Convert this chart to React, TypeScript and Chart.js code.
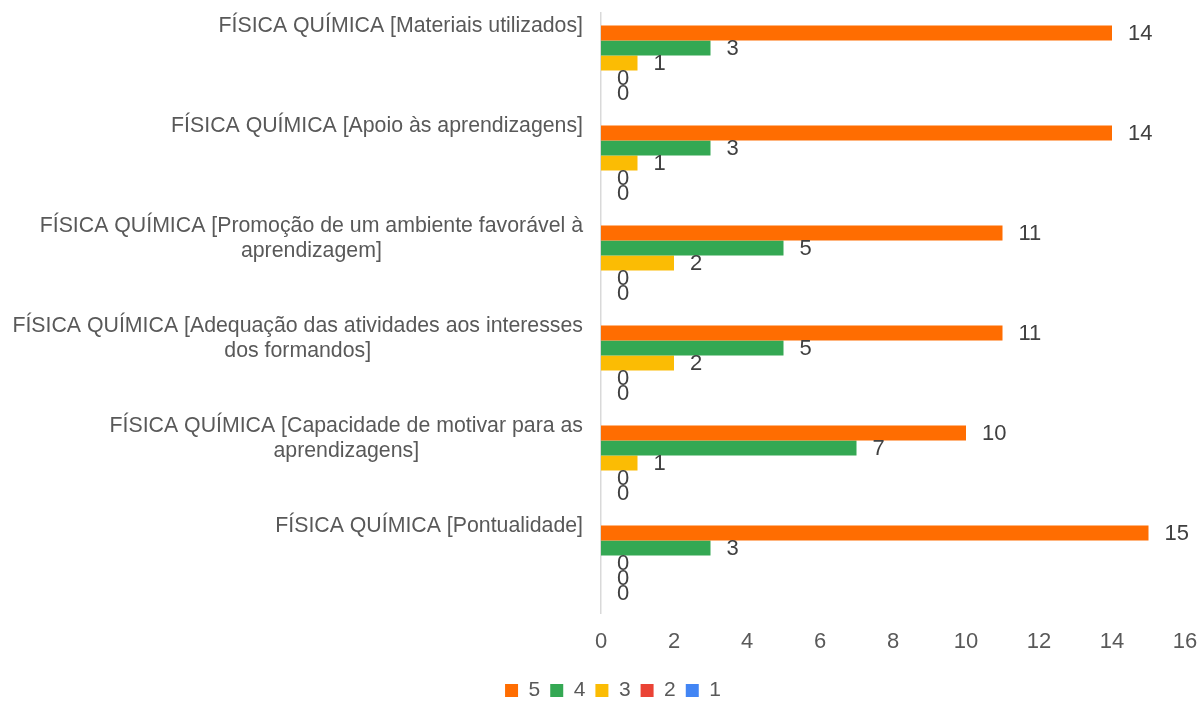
import React, { useEffect, useRef } from "react";
import { Chart, registerables } from "chart.js";

Chart.register(...registerables);

const categories: string[][] = [
  ["FÍSICA QUÍMICA [Materiais utilizados]"],
  ["FÍSICA QUÍMICA [Apoio às aprendizagens]"],
  ["FÍSICA QUÍMICA [Promoção de um ambiente favorável à", "aprendizagem]"],
  ["FÍSICA QUÍMICA [Adequação das atividades aos interesses", "dos formandos]"],
  ["FÍSICA QUÍMICA [Capacidade de motivar para as", "aprendizagens]"],
  ["FÍSICA QUÍMICA [Pontualidade]"],
];

const seriesNames = ["5", "4", "3", "2", "1"];
const values5 = [14, 14, 11, 11, 10, 15];
const values4 = [3, 3, 5, 5, 7, 3];
const values3 = [1, 1, 2, 2, 1, 0];
const values2 = [0, 0, 0, 0, 0, 0];
const values1 = [0, 0, 0, 0, 0, 0];
const seriesColors = ["#FF6D01", "#34A853", "#FBBC04", "#EA4335", "#4285F4"];
const xTicks = [0, 2, 4, 6, 8, 10, 12, 14, 16];

const FONT = "'Liberation Sans', Arial, sans-serif";

const labelPlugin = {
  id: "customLabels",
  afterDraw(chart: any) {
    const ctx = chart.ctx;
    const yScale = chart.scales.y;
    ctx.save();
    ctx.font = `21.3px ${FONT}`;
    ctx.fillStyle = "#595959";
    ctx.textBaseline = "middle";
    ctx.textAlign = "center";
    const right = chart.chartArea.left - 18;
    categories.forEach((lines, i) => {
      const cy = yScale.getPixelForValue(i);
      const maxW = Math.max(...lines.map((l) => ctx.measureText(l).width));
      const cx = right - maxW / 2;
      lines.forEach((l, j) => {
        ctx.fillText(l, cx, cy - 37 + j * 25);
      });
    });
    ctx.font = `22px ${FONT}`;
    ctx.fillStyle = "#404040";
    ctx.textAlign = "left";
    chart.data.datasets.forEach((ds: any, di: number) => {
      const meta = chart.getDatasetMeta(di);
      meta.data.forEach((bar: any, i: number) => {
        ctx.fillText(String(ds.data[i]), bar.x + 16, bar.y + 1);
      });
    });
    ctx.restore();
  },
};

export default function App() {
  const ref = useRef<HTMLCanvasElement>(null);
  useEffect(() => {
    document.body.style.margin = "0";
    const allSeries = [values5, values4, values3, values2, values1];
    const chart = new Chart(ref.current!, {
      type: "bar",
      data: {
        labels: categories.map((c) => c.join(" ")),
        datasets: allSeries.map((d, i) => ({
          label: seriesNames[i],
          data: d,
          backgroundColor: seriesColors[i],
          borderWidth: 0,
          categoryPercentage: 0.75,
          barPercentage: 1,
        })),
      },
      options: {
        indexAxis: "y",
        animation: false,
        responsive: false,
        maintainAspectRatio: false,
        layout: { padding: { top: 13, right: 16, bottom: 0, left: 41 } },
        plugins: {
          legend: {
            position: "bottom",
            maxHeight: 31,
            labels: {
              boxWidth: 13,
              boxHeight: 13,
              padding: 10,
              color: "#595959",
              font: { family: FONT, size: 21 },
            },
          },
          tooltip: { enabled: false },
        },
        scales: {
          x: {
            min: 0,
            max: 16,
            afterBuildTicks: (s: any) => {
              s.ticks = xTicks.map((v) => ({ value: v }));
            },
            afterFit: (s: any) => {
              s.height = 57;
              s.paddingLeft = 0;
              s.paddingRight = 0;
            },
            grid: { display: false, drawTicks: false },
            border: { display: false },
            ticks: {
              padding: 16,
              color: "#595959",
              font: { family: FONT, size: 22 },
            },
          },
          y: {
            grid: { display: false, drawTicks: false },
            border: { display: true, color: "#D9D9D9", width: 1.5 },
            ticks: { display: false },
            afterFit: (s: any) => {
              s.width = 560;
            },
          },
        },
      },
      plugins: [labelPlugin],
    });
    return () => chart.destroy();
  }, []);
  return (
    <div style={{ width: 1201, height: 701 }}>
      <canvas ref={ref} width={1201} height={701} style={{ display: "block" }} />
    </div>
  );
}
